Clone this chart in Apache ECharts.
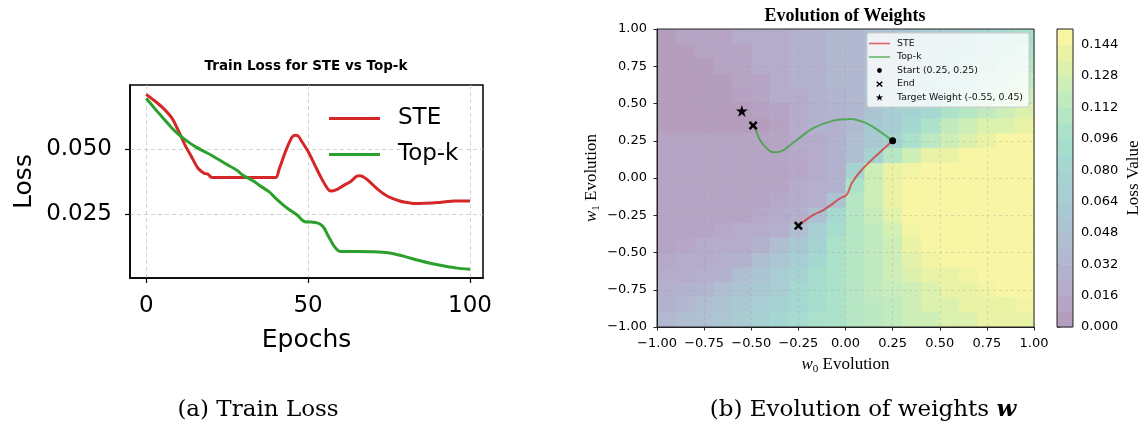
<!DOCTYPE html>
<html>
<head>
<meta charset="utf-8">
<script src="https://cdn.jsdelivr.net/npm/echarts@6.0.0/dist/echarts.min.js"></script>
<style>
html, body { margin: 0; padding: 0; background: #fff; }
#chart { width: 1143px; height: 425px; }
</style>
</head>
<body>
<div id="chart"></div>
<script>
// (a) train loss, [epoch, loss]
var steLoss = [[0,0.0710],[2,0.0691],[5,0.0660],[8,0.0618],[10,0.0569],[12,0.0515],[14,0.0470],[16,0.0426],[18,0.0406],[19,0.0404],[20,0.0392],[21,0.0390],
  [40,0.0390],[41,0.0420],[43,0.0490],[45,0.0545],[46,0.0553],[47,0.0549],[48,0.0530],[50,0.0490],[52,0.0440],[54,0.0390],[56,0.0348],[57,0.0338],
  [59,0.0345],[61,0.0360],[63,0.0374],[65,0.0395],[66,0.0397],[68,0.0385],[70,0.0362],[72,0.0340],[74,0.0322],[76,0.0310],[78,0.0301],[80,0.0295],
  [83,0.0290],[86,0.0291],[90,0.0294],[93,0.0298],[95,0.0300],[100,0.0300]];
var topkLoss = [[0,0.0695],[2,0.0665],[4,0.0636],[6,0.0608],[8,0.0580],[10,0.0556],[12,0.0536],[15,0.0510],[18,0.0490],[20,0.0477],[25,0.0440],
  [28,0.0418],[30,0.0398],[33,0.0378],[35,0.0360],[38,0.0335],[40,0.0310],[42,0.0288],[44,0.0268],[46,0.0252],[47,0.0242],[48,0.0228],[49,0.0220],
  [51,0.0219],[53,0.0215],[54,0.0208],[55,0.0195],[56,0.0170],[57,0.0148],[58,0.0127],[59,0.0112],[60,0.0106],[65,0.0106],[70,0.0105],[73,0.0103],
  [76,0.0098],[80,0.0086],[84,0.0072],[88,0.0060],[92,0.0050],[96,0.0042],[100,0.0038]];

// (b) weight trajectories, [w0, w1]
var steTrack = [[0.25,0.25],[0.148,0.132],[0.077,0.042],[0.033,-0.036],[0.006,-0.114],[-0.029,-0.136],[-0.065,-0.17],[-0.118,-0.215],[-0.171,-0.248],[-0.25,-0.32]];
var topkTrack = [[0.25,0.25],[0.183,0.311],[0.112,0.367],[0.024,0.396],[-0.065,0.385],[-0.171,0.334],[-0.259,0.255],[-0.347,0.177],[-0.383,0.172],
  [-0.418,0.199],[-0.454,0.255],[-0.48,0.334],[-0.49,0.352]];
var startPoint = [[0.25, 0.25]];
var endPoints = [[-0.25, -0.32], [-0.49, 0.352]];
var targetPoint = [[-0.55, 0.45]];

// loss surface: cell centres, rows top (w1=0.95) to bottom, loss x 1e-3
var gridW0 = [-0.95,-0.85,-0.75,-0.65,-0.55,-0.45,-0.35,-0.25,-0.15,-0.05,0.05,0.15,0.25,0.35,0.45,0.55,0.65,0.75,0.85,0.95];
var gridW1 = [0.95,0.85,0.75,0.65,0.55,0.45,0.35,0.25,0.15,0.05,-0.05,-0.15,-0.25,-0.35,-0.45,-0.55,-0.65,-0.75,-0.85,-0.95];
var lossRows = [
  [4,12,12,12,20,20,20,28,28,36,36,44,52,60,68,68,76,84,84,92],
  [4,4,12,12,12,20,20,28,28,36,36,44,52,60,68,76,76,84,92,100],
  [4,4,4,12,12,20,20,28,28,36,36,44,52,60,68,76,84,92,100,108],
  [4,4,4,4,12,12,20,28,28,36,36,52,60,68,76,84,84,100,108,116],
  [4,4,4,4,8,12,20,20,28,32,36,52,60,68,76,84,100,108,116,124],
  [4,4,4,4,4,8,12,20,28,32,36,52,68,76,84,100,108,116,124,132],
  [4,4,4,4,4,4,10,20,28,28,40,60,68,84,100,116,124,132,132,140],
  [12,12,12,12,12,12,12,20,20,28,44,60,76,96,112,124,132,140,148,148],
  [12,12,12,12,12,12,12,16,20,28,44,76,108,124,140,140,148,148,148,148],
  [12,12,12,12,12,12,12,14,20,28,76,124,140,144,148,148,148,148,148,148],
  [12,12,12,12,12,12,12,20,24,28,100,124,140,148,148,148,148,148,148,148],
  [12,12,12,12,12,12,16,20,24,52,108,124,140,148,148,148,148,148,148,148],
  [12,12,12,12,12,16,20,24,48,84,108,120,136,148,148,148,148,148,148,148],
  [12,12,12,16,20,20,24,44,68,92,108,116,128,144,148,148,148,148,148,148],
  [12,14,20,20,20,28,44,60,76,100,108,116,124,140,148,148,148,148,148,148],
  [16,20,20,24,28,44,56,68,84,100,108,116,124,136,144,148,148,148,148,148],
  [20,20,24,28,44,52,68,76,92,100,108,116,124,132,140,140,144,148,148,148],
  [24,28,32,44,52,60,68,84,92,100,108,116,120,124,132,140,140,144,148,148],
  [28,36,44,52,60,68,76,84,92,100,108,112,116,124,132,132,140,140,140,144],
  [36,44,48,56,64,72,80,88,96,100,108,112,116,124,124,132,132,140,140,140]
];
// contour levels shown on the colorbar
var lossLevels = [0,0.008,0.016,0.024,0.032,0.040,0.048,0.056,0.064,0.072,0.080,0.088,0.096,0.104,0.112,0.120,0.128,0.136,0.144,0.152];

// viridis at alpha 0.4 on white, one colour per contour band
var palette = ['#b59dbe','#b6a4c5','#b5abcb','#b3b2ce','#b1b8d0','#afbed1','#acc3d2','#a9c9d2','#a8cdd2','#a6d3d1',
  '#a5d8d0','#a7ddcd','#ade2ca','#b7e6c5','#c1eabf','#ceeeb7','#dcf1ae','#eaf3a5','#f8f5a5'];

var contourData = [];
lossRows.forEach(function (row, j) {
  row.forEach(function (v, i) {
    contourData.push([gridW0[i], gridW1[j], v / 1000]);
  });
});
var cellHalf = (gridW0[1] - gridW0[0]) / 2;

var colorbarData = [];
for (var k = 0; k < lossLevels.length - 1; k++) {
  colorbarData.push([lossLevels[k], lossLevels[k + 1], k]);
}

var crossPath = 'path://M2,0L5,3L8,0L10,2L7,5L10,8L8,10L5,7L2,10L0,8L3,5L0,2Z';
var starPath = 'path://M5,0L6.18,3.62L10,3.62L6.91,5.86L8.09,9.5L5,7.25L1.91,9.5L3.09,5.86L0,3.62L3.82,3.62Z';

function signed(v, d) {
  return (v < 0 ? '\u2212' : '') + Math.abs(v).toFixed(d);
}

var chart = echarts.init(document.getElementById('chart'));

var serifName = {
  fontFamily: 'Liberation Serif', fontSize: 17, color: '#000', lineHeight: 20,
  rich: {
    i: { fontFamily: 'Liberation Serif', fontStyle: 'italic', fontSize: 17, lineHeight: 20 },
    s: { fontFamily: 'Liberation Serif', fontSize: 11, lineHeight: 11, verticalAlign: 'bottom' }
  }
};

var option = {
  animation: false,
  backgroundColor: '#fff',
  textStyle: { fontFamily: 'DejaVu Sans', color: '#000' },
  title: [
    { text: 'Train Loss for STE vs Top-k', left: 306, top: 59, textAlign: 'center', padding: 0,
      textStyle: { fontFamily: 'DejaVu Sans', fontSize: 13.5, fontWeight: 'bold', color: '#000' } },
    { text: 'Evolution of Weights', left: 845, top: 7, textAlign: 'center', padding: 0,
      textStyle: { fontFamily: 'Liberation Serif', fontSize: 18, fontWeight: 'bold', color: '#000' } }
  ],
  legend: [
    { orient: 'vertical', left: 329, top: 107, padding: 0, itemWidth: 51, itemHeight: 12, itemGap: 13,
      selectedMode: false,
      textStyle: { fontSize: 23, lineHeight: 23, color: '#000', padding: [0, 0, 0, 13] },
      data: [
        { name: 'STE', icon: 'path://M0,0L51,0L51,3L0,3Z', itemStyle: { color: '#d62728' } },
        { name: 'Top-k', icon: 'path://M0,0L51,0L51,3L0,3Z', itemStyle: { color: '#2ca02c' } }
      ] },
    { orient: 'vertical', left: 867, top: 33, padding: [5, 6, 4, 2], itemWidth: 21, itemHeight: 8, itemGap: 2.5,
      selectedMode: false, backgroundColor: 'rgba(255,255,255,0.8)', borderColor: '#cccccc', borderWidth: 1, borderRadius: 2,
      textStyle: { fontSize: 9.4, lineHeight: 11, color: '#111', padding: [0, 0, 0, 2] },
      data: [
        { name: 'STE', icon: 'path://M0,0L21,0L21,1.6L0,1.6Z', itemStyle: { color: 'rgba(214,39,40,0.7)' } },
        { name: 'Top-k', icon: 'path://M0,0L21,0L21,1.6L0,1.6Z', itemStyle: { color: 'rgba(44,160,44,0.7)' } },
        { name: 'Start (0.25, 0.25)', icon: 'path://M0,0M21,8M10.5,1.6A2.4,2.4,0,1,1,10.49,1.6Z', itemStyle: { color: '#000' } },
        { name: 'End', icon: 'path://M0,0M21,8M8.2,1.3L10.5,3.3L12.8,1.3L13.8,2.3L11.6,4.2L13.8,6.1L12.8,7.1L10.5,5.1L8.2,7.1L7.2,6.1L9.4,4.2L7.2,2.3Z', itemStyle: { color: '#000' } },
        { name: 'Target Weight (-0.55, 0.45)', icon: 'path://M0,0M21,8.6M10.5,0.2L11.5,3.1L14.6,3.1L12.1,4.9L13.0,7.8L10.5,6.0L8.0,7.8L8.9,4.9L6.4,3.1L9.5,3.1Z', itemStyle: { color: '#000' } }
      ] }
  ],
  visualMap: [
    { type: 'continuous', show: false, seriesIndex: 2, dimension: 2, min: 0.004, max: 0.148,
      inRange: { color: palette } }
  ],
  grid: [
    { left: 130, top: 85, width: 353, height: 193, show: true, borderColor: '#000', borderWidth: 1.5, backgroundColor: 'transparent' },
    { left: 657, top: 29, width: 377, height: 298, show: true, borderColor: '#222', borderWidth: 1, backgroundColor: 'transparent', z: 3 },
    { left: 1057, top: 29, width: 16, height: 298, show: true, borderColor: '#222', borderWidth: 1, backgroundColor: 'transparent', z: 3 }
  ],
  xAxis: [
    { gridIndex: 0, type: 'value', min: -5, max: 104,
      name: 'Epochs', nameLocation: 'middle', nameGap: 50, nameTextStyle: { fontSize: 25, color: '#000' },
      axisLine: { show: true, onZero: false, lineStyle: { color: '#000', width: 1.5 } },
      axisTick: { show: true, customValues: [0, 50, 100], length: 5, lineStyle: { color: '#000', width: 1.2 } },
      axisLabel: { customValues: [0, 50, 100], fontSize: 23, color: '#000', margin: 17 },
      splitLine: { show: true, customValues: [0, 50, 100], lineStyle: { type: [4, 3], color: '#c8c8c8', width: 0.8 } } },
    { gridIndex: 1, type: 'value', min: -1, max: 1, interval: 0.25, z: 2,
      name: '{i|w}{s|0} Evolution', nameLocation: 'middle', nameGap: 25, nameTextStyle: serifName,
      axisLine: { show: true, onZero: false, lineStyle: { color: '#222', width: 1 } },
      axisTick: { show: true, length: 3.5, lineStyle: { color: '#222' } },
      axisLabel: { fontSize: 13, color: '#000', margin: 10, interval: 0, formatter: function (v) { return signed(v, 2); } },
      splitLine: { show: true, lineStyle: { type: [3, 3], color: 'rgba(150,150,150,0.35)', width: 0.8 } } },
    { gridIndex: 2, type: 'value', min: 0, max: 1, show: false }
  ],
  yAxis: [
    { gridIndex: 0, type: 'value', min: 0.0004, max: 0.0746,
      name: 'Loss', nameLocation: 'middle', nameGap: 93, nameRotate: 90, nameTextStyle: { fontSize: 25, color: '#000' },
      axisLine: { show: true, onZero: false, lineStyle: { color: '#000', width: 1.5 } },
      axisTick: { show: true, customValues: [0.025, 0.05], length: 5, lineStyle: { color: '#000', width: 1.2 } },
      axisLabel: { customValues: [0.025, 0.05], fontSize: 23, color: '#000', margin: 18, formatter: function (v) { return v.toFixed(3); } },
      splitLine: { show: true, customValues: [0.025, 0.05], lineStyle: { type: [4, 3], color: '#c8c8c8', width: 0.8 } } },
    { gridIndex: 1, type: 'value', min: -1, max: 1, interval: 0.25, z: 2,
      name: '{i|w}{s|1} Evolution', nameLocation: 'middle', nameGap: 55, nameRotate: 90, nameTextStyle: serifName,
      axisLine: { show: true, onZero: false, lineStyle: { color: '#222', width: 1 } },
      axisTick: { show: true, length: 3.5, lineStyle: { color: '#222' } },
      axisLabel: { fontSize: 13, color: '#000', margin: 10, interval: 0, formatter: function (v) { return signed(v, 2); } },
      splitLine: { show: true, lineStyle: { type: [3, 3], color: 'rgba(150,150,150,0.35)', width: 0.8 } } },
    { gridIndex: 2, type: 'value', position: 'right', min: 0, max: 0.152, interval: 0.016,
      name: 'Loss Value', nameLocation: 'middle', nameGap: 52, nameRotate: 90,
      nameTextStyle: { fontFamily: 'Liberation Serif', fontSize: 17, color: '#000' },
      axisLine: { show: true, lineStyle: { color: '#222', width: 1 } },
      axisTick: { show: true, length: 3.5, lineStyle: { color: '#222' } },
      axisLabel: { fontSize: 13, color: '#000', margin: 8, showMaxLabel: false, formatter: function (v) { return v.toFixed(3); } },
      splitLine: { show: false } }
  ],
  series: [
    { name: 'STE', type: 'line', xAxisIndex: 0, yAxisIndex: 0, data: steLoss, smooth: 0.25, symbol: 'none',
      lineStyle: { color: '#d62728', width: 3 }, itemStyle: { color: '#d62728' } },
    { name: 'Top-k', type: 'line', xAxisIndex: 0, yAxisIndex: 0, data: topkLoss, smooth: 0.25, symbol: 'none',
      lineStyle: { color: '#2ca02c', width: 3 }, itemStyle: { color: '#2ca02c' } },
    { name: 'loss surface', type: 'custom', xAxisIndex: 1, yAxisIndex: 1, data: contourData, z: 1, silent: true,
      renderItem: function (params, api) {
        var x = api.value(0), y = api.value(1);
        var p0 = api.coord([x - cellHalf, y + cellHalf]);
        var p1 = api.coord([x + cellHalf, y - cellHalf]);
        return { type: 'rect', shape: { x: p0[0], y: p0[1], width: p1[0] - p0[0] + 0.6, height: p1[1] - p0[1] + 0.6 },
          style: { fill: api.visual('color') } };
      } },
    { name: 'STE', type: 'line', xAxisIndex: 1, yAxisIndex: 1, data: steTrack, smooth: 0.4, symbol: 'none', z: 4,
      lineStyle: { color: '#d62728', width: 2, opacity: 0.7 }, itemStyle: { color: '#d62728' } },
    { name: 'Top-k', type: 'line', xAxisIndex: 1, yAxisIndex: 1, data: topkTrack, smooth: 0.4, symbol: 'none', z: 4,
      lineStyle: { color: '#2ca02c', width: 2, opacity: 0.7 }, itemStyle: { color: '#2ca02c' } },
    { name: 'Start (0.25, 0.25)', type: 'scatter', xAxisIndex: 1, yAxisIndex: 1, data: startPoint, z: 5,
      symbol: 'circle', symbolSize: 7, itemStyle: { color: '#000', opacity: 1 } },
    { name: 'End', type: 'scatter', xAxisIndex: 1, yAxisIndex: 1, data: endPoints, z: 5,
      symbol: crossPath, symbolSize: 9, itemStyle: { color: '#000', opacity: 1 } },
    { name: 'Target Weight (-0.55, 0.45)', type: 'scatter', xAxisIndex: 1, yAxisIndex: 1, data: targetPoint, z: 5,
      symbol: starPath, symbolSize: 12, itemStyle: { color: '#000', opacity: 1 } },
    { name: 'colorbar', type: 'custom', xAxisIndex: 2, yAxisIndex: 2, data: colorbarData, silent: true,
      renderItem: function (params, api) {
        var p0 = api.coord([0, api.value(1)]);
        var p1 = api.coord([1, api.value(0)]);
        return { type: 'rect', shape: { x: p0[0], y: p0[1], width: p1[0] - p0[0], height: p1[1] - p0[1] + 0.5 },
          style: { fill: palette[api.value(2)] } };
      } }
  ],
  graphic: [
    { type: 'text', x: 258, y: 410,
      style: { text: '(a) Train Loss', align: 'center', verticalAlign: 'middle',
        fontFamily: 'DejaVu Serif', fontSize: 23, fill: '#000' } },
    { type: 'text', x: 863, y: 410,
      style: { text: '(b) Evolution of weights {w|w}', align: 'center', verticalAlign: 'middle',
        fontFamily: 'DejaVu Serif', fontSize: 23, fill: '#000',
        rich: { w: { fontFamily: 'DejaVu Serif', fontSize: 23, fontWeight: 'bold', fontStyle: 'italic' } } } }
  ]
};

chart.setOption(option);
</script>
</body>
</html>
